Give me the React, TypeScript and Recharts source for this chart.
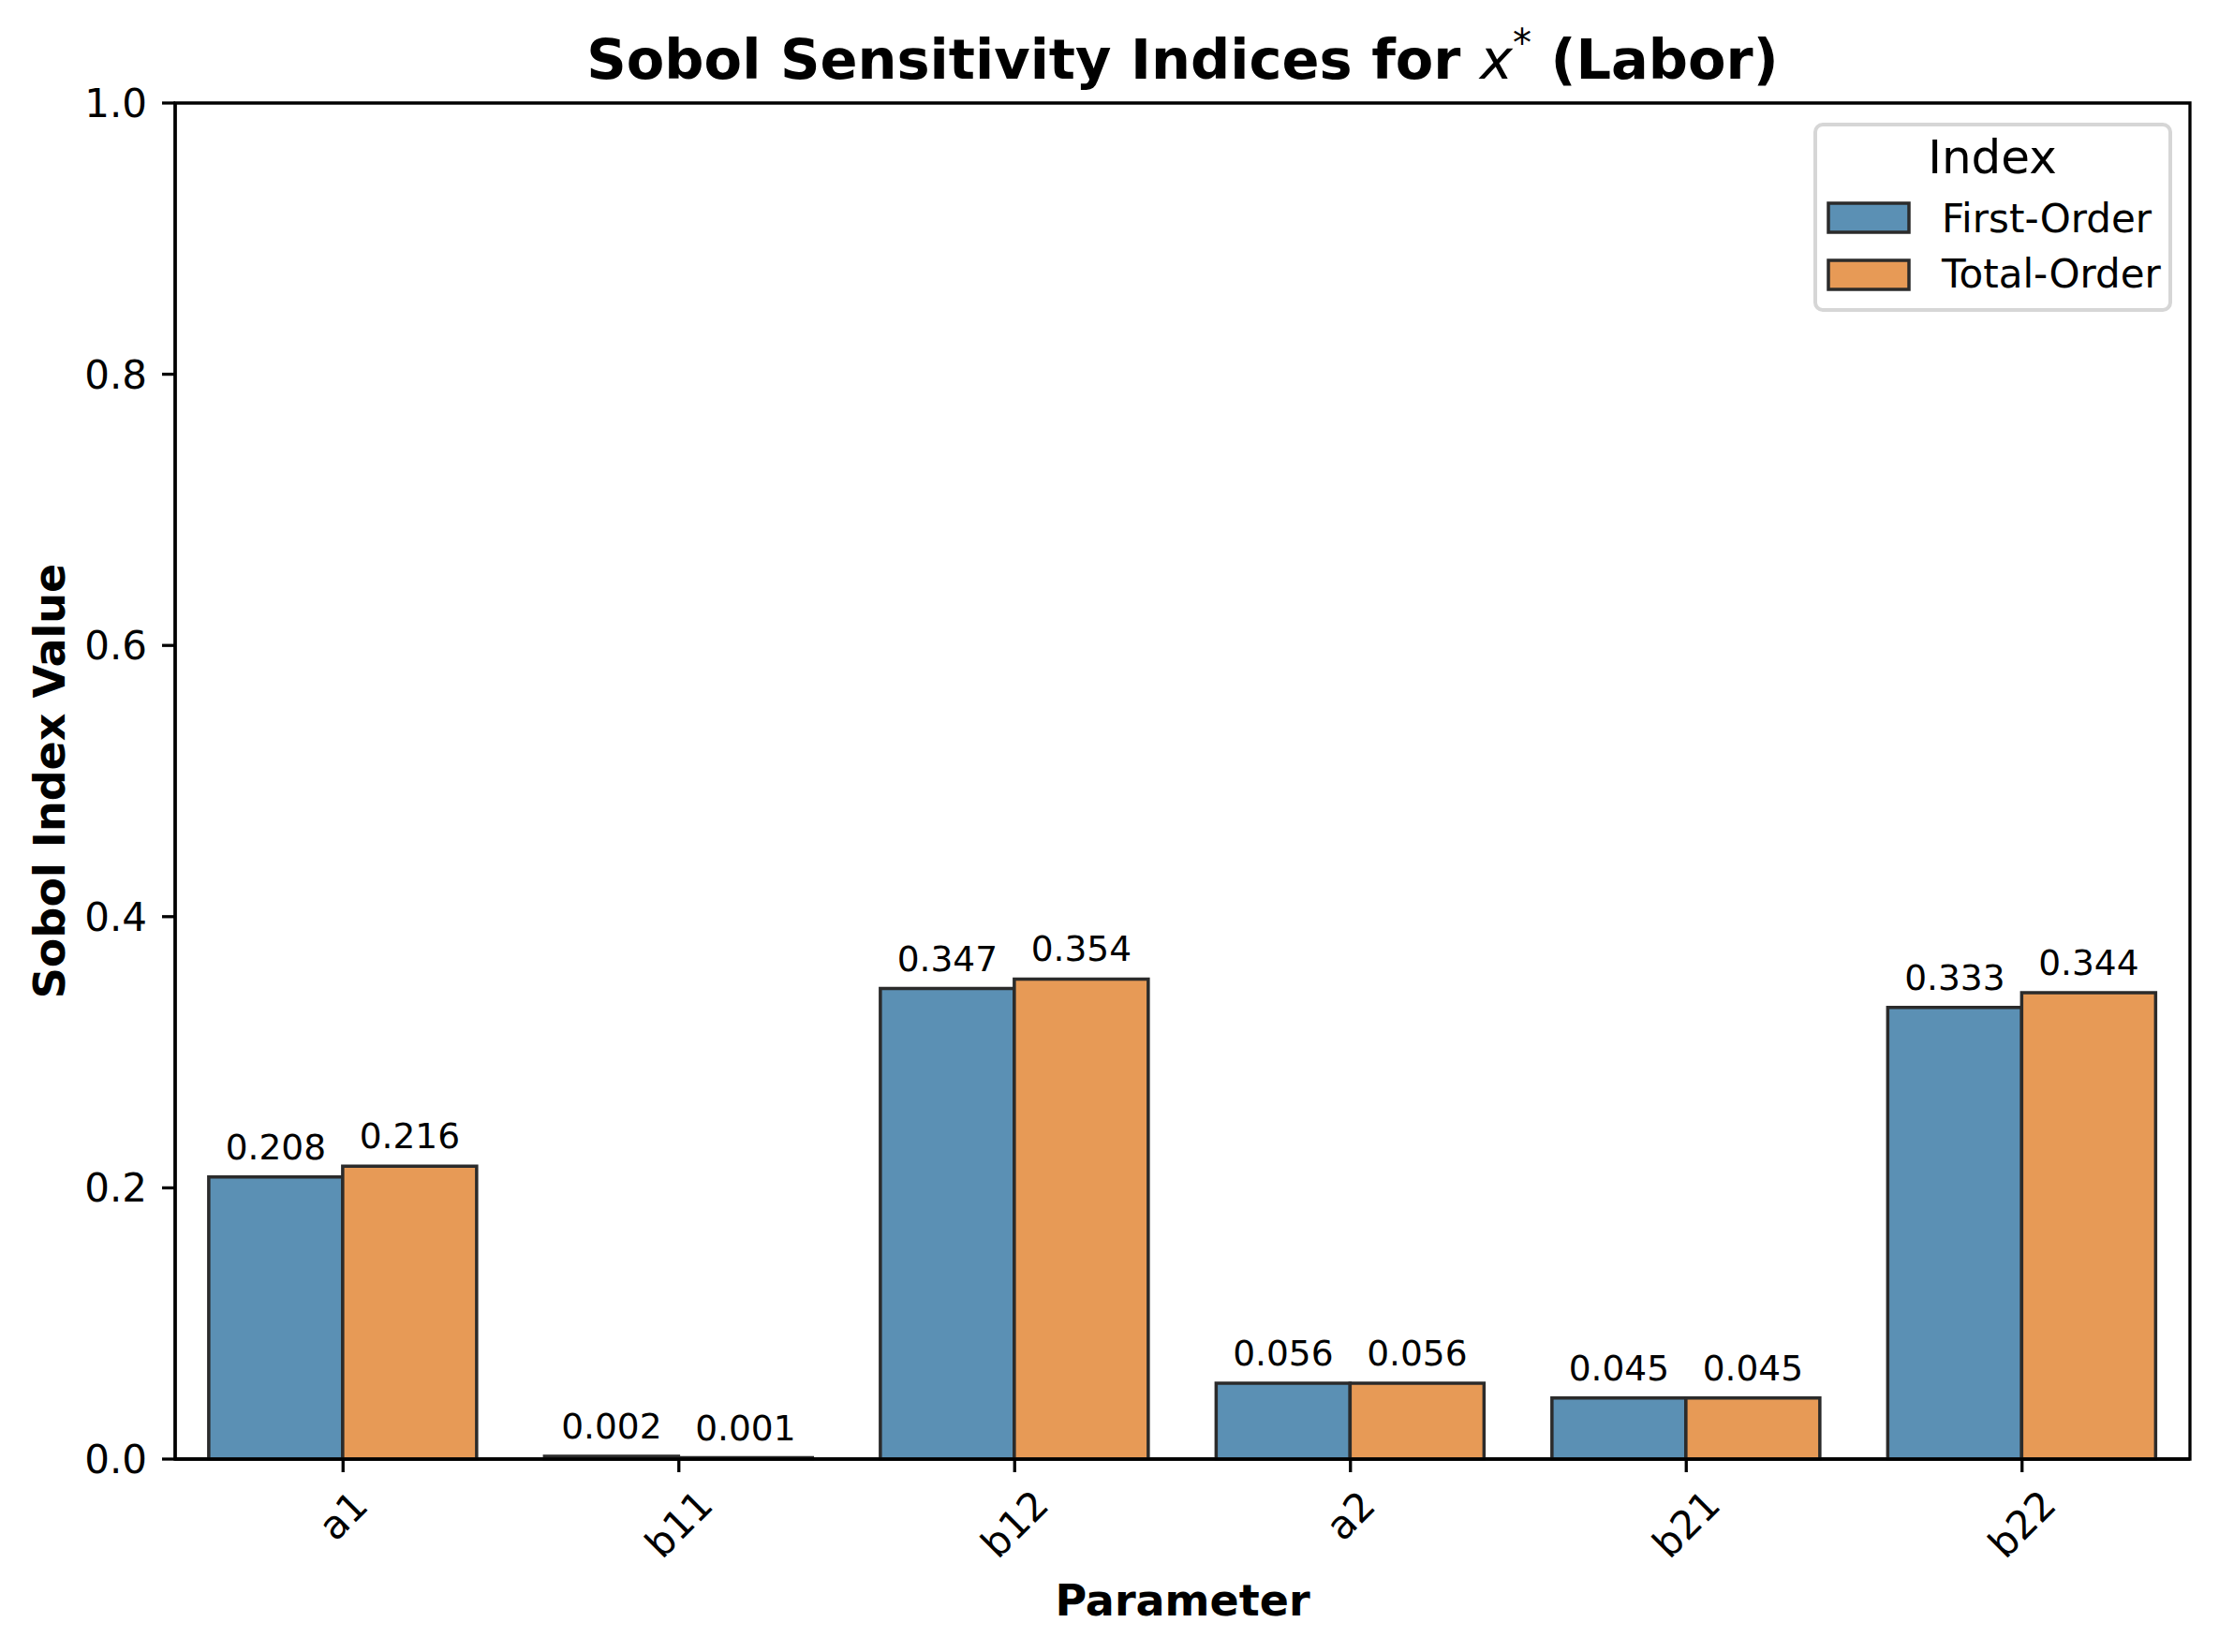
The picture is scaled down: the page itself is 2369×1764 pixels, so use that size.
import React from 'react';
import { BarChart, Bar, XAxis, YAxis, Legend, LabelList, ReferenceArea } from 'recharts';

const categories = ['a1', 'b11', 'b12', 'a2', 'b21', 'b22'];
const firstOrder = [0.208, 0.002, 0.347, 0.056, 0.045, 0.333];
const totalOrder = [0.216, 0.001, 0.354, 0.056, 0.045, 0.344];
const yTicks = [0, 0.2, 0.4, 0.6, 0.8, 1.0];
const seriesNames = ['First-Order', 'Total-Order'];

const BLUE = '#5B90B4';
const ORANGE = '#E79A56';
const EDGE = '#2b2b2b';
const FONT = '"DejaVu Sans", sans-serif';

const W = 2369;
const H = 1764;
const PLOT_LEFT = 187;
const PLOT_RIGHT = 2338;
const PLOT_TOP = 110;
const PLOT_BOTTOM = 1558;
const Y_AXIS_W = 120;
const X_AXIS_H = 180;

const data = categories.map((name, i) => ({
  name,
  first: firstOrder[i],
  total: totalOrder[i],
}));

const XTick = (props: any) => {
  const { x, y, payload } = props;
  const label = String(payload.value);
  const bboxH = (label.length * 25.2 + 30) * 0.707;
  const cy = y + 18 + bboxH / 2;
  return (
    <text
      x={x}
      y={cy}
      transform={`rotate(-45, ${x}, ${cy})`}
      textAnchor="middle"
      dominantBaseline="central"
      fontFamily={FONT}
      fontSize={42}
      fill="#000"
    >
      {label}
    </text>
  );
};

const ValueLabel = (props: any) => {
  const { x, y, width, value } = props;
  return (
    <text
      x={x + width / 2}
      y={y - 19}
      textAnchor="middle"
      fontFamily={FONT}
      fontSize={37.5}
      fill="#000"
    >
      {Number(value).toFixed(3)}
    </text>
  );
};

const renderLegend = () => (
  <div
    style={{
      boxSizing: 'border-box',
      width: 383,
      height: 202,
      border: '4px solid #d6d6d6',
      borderRadius: 10,
      background: '#fff',
      position: 'relative',
    }}
  >
    <svg width={383} height={202} style={{ position: 'absolute', left: -4, top: -4 }}>
      <text x={191} y={54} textAnchor="middle" fontFamily={FONT} fontSize={50} fill="#000">
        Index
      </text>
      {seriesNames.map((n, i) => (
        <g key={n}>
          <rect
            x={16}
            y={86 + i * 61}
            width={86}
            height={31}
            fill={i === 0 ? BLUE : ORANGE}
            stroke={EDGE}
            strokeWidth={3.5}
          />
          <text x={137} y={117 + i * 59} fontFamily={FONT} fontSize={42} fill="#000">
            {n}
          </text>
        </g>
      ))}
    </svg>
  </div>
);

export default function App() {
  return (
    <div style={{ position: 'absolute', left: 0, top: 0, width: W, height: H, background: '#fff' }}>
      <BarChart
        width={W}
        height={H}
        data={data}
        margin={{
          top: PLOT_TOP,
          right: W - PLOT_RIGHT,
          bottom: H - PLOT_BOTTOM - X_AXIS_H,
          left: PLOT_LEFT - Y_AXIS_W,
        }}
        barCategoryGap="10%"
        barGap={0}
      >
        <XAxis
          dataKey="name"
          height={X_AXIS_H}
          interval={0}
          tickSize={14}
          tickMargin={0}
          tick={<XTick />}
          axisLine={{ stroke: '#000', strokeWidth: 3.3 }}
          tickLine={{ stroke: '#000', strokeWidth: 3.3 }}
        />
        <YAxis
          domain={[0, 1]}
          ticks={yTicks}
          width={Y_AXIS_W}
          tickSize={14}
          tickMargin={16}
          tickFormatter={(v: number) => v.toFixed(1)}
          tick={{ fontFamily: FONT, fontSize: 42, fill: '#000' }}
          axisLine={{ stroke: '#000', strokeWidth: 3.3 }}
          tickLine={{ stroke: '#000', strokeWidth: 3.3 }}
        />
        <ReferenceArea
          x1={categories[0]}
          x2={categories[categories.length - 1]}
          y1={0}
          y2={1}
          fill="none"
          fillOpacity={0}
          stroke="#000"
          strokeWidth={3.3}
          ifOverflow="visible"
        />
        <Legend
          layout="horizontal"
          verticalAlign="middle"
          align="center"
          wrapperStyle={{ position: 'absolute', left: 1936, top: 131, width: 383, height: 202, margin: 0, padding: 0 }}
          content={renderLegend}
        />
        <Bar
          dataKey="first"
          name={seriesNames[0]}
          fill={BLUE}
          stroke={EDGE}
          strokeWidth={3.5}
          isAnimationActive={false}
        >
          <LabelList dataKey="first" content={<ValueLabel />} />
        </Bar>
        <Bar
          dataKey="total"
          name={seriesNames[1]}
          fill={ORANGE}
          stroke={EDGE}
          strokeWidth={3.5}
          isAnimationActive={false}
        >
          <LabelList dataKey="total" content={<ValueLabel />} />
        </Bar>
      </BarChart>
      <svg
        width={W}
        height={H}
        style={{ position: 'absolute', left: 0, top: 0, pointerEvents: 'none' }}
      >
        <text
          x={(PLOT_LEFT + PLOT_RIGHT) / 2}
          y={84}
          textAnchor="middle"
          fontFamily={FONT}
          fontSize={59}
          fill="#000"
        >
          <tspan fontWeight="bold">Sobol Sensitivity Indices for </tspan>
          <tspan fontStyle="italic">x</tspan>
          <tspan fontSize={40} dy={-24}>*</tspan>
          <tspan fontWeight="bold" dy={24}> (Labor)</tspan>
        </text>
        <text
          x={(PLOT_LEFT + PLOT_RIGHT) / 2}
          y={1725}
          textAnchor="middle"
          fontFamily={FONT}
          fontSize={46}
          fontWeight="bold"
          fill="#000"
        >
          Parameter
        </text>
        <text
          transform={`translate(69, ${(PLOT_TOP + PLOT_BOTTOM) / 2}) rotate(-90)`}
          textAnchor="middle"
          fontFamily={FONT}
          fontSize={46}
          fontWeight="bold"
          fill="#000"
        >
          Sobol Index Value
        </text>
      </svg>
    </div>
  );
}
